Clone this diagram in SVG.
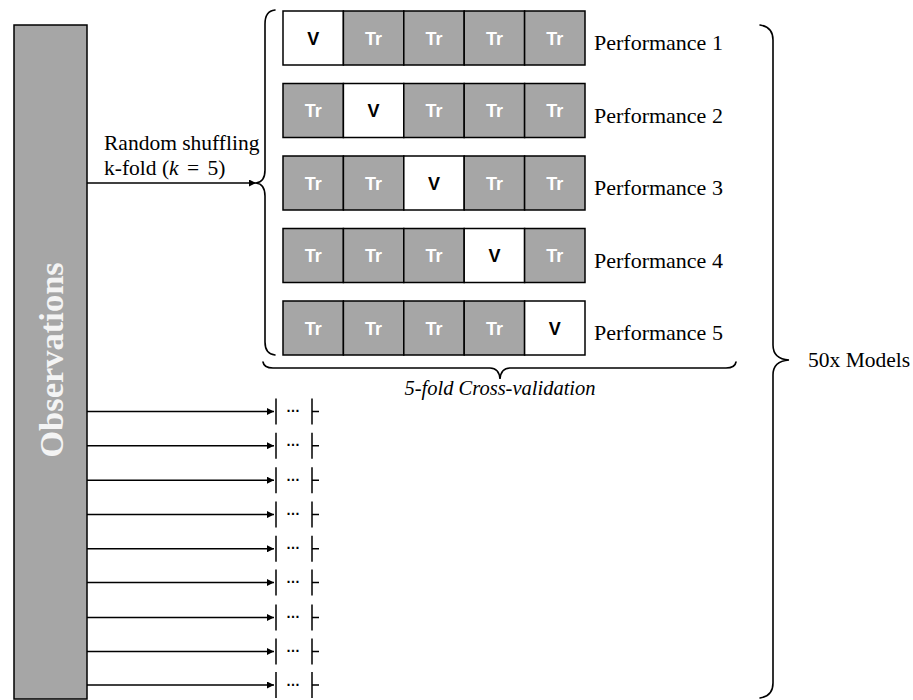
<svg xmlns="http://www.w3.org/2000/svg" width="913" height="700" viewBox="0 0 913 700">
  <style>
    .serif { font-family: "Liberation Serif", "DejaVu Serif", serif; fill: #000; }
    .label { font-size: 21.5px; }
    .perf { font-size: 22px; }
    .cell { stroke: #000; stroke-width: 1.5; }
    .tr { fill: #a6a6a6; }
    .v { fill: #fff; }
    .celltxt { font-family: "Liberation Sans", Arial, sans-serif; font-weight: bold; font-size: 18px; text-anchor: middle; }
    .trtxt { fill: #fff; }
    .vtxt { fill: #000; }
    .line { fill: none; stroke: #000; stroke-width: 1.5; }
    .brace { fill: none; stroke: #000; stroke-width: 1.6; stroke-linecap: round; }
    .dots { font-family: "Liberation Sans", Arial, sans-serif; font-weight: bold; font-size: 14px; text-anchor: middle; fill: #000; }
  </style>
  <defs>
    <marker id="arrow" viewBox="0 0 10 10" refX="10" refY="5" markerWidth="7" markerHeight="7" markerUnits="userSpaceOnUse" orient="auto">
      <path d="M0,0 L10,5 L0,10 z" fill="#000"/>
    </marker>
  </defs>

  <rect width="913" height="700" fill="#fff"/>

  <!-- observations column -->
  <g id="observations">
    <rect x="14" y="25" width="73" height="674" fill="#a6a6a6" stroke="#000" stroke-width="1.5"/>
    <text x="63" y="360" transform="rotate(-90 63 360)" text-anchor="middle" font-family="Liberation Serif, DejaVu Serif, serif" font-weight="bold" font-size="34.5" fill="#f4f4f4">Observations</text>
  </g>

  <!-- connectors -->
  <g id="connectors">
    <path class="line" d="M87,183 H256" marker-end="url(#arrow)"/>
    <path class="line" d="M87,411.5 H274" marker-end="url(#arrow)"/>
    <path class="line" d="M87,445.7 H274" marker-end="url(#arrow)"/>
    <path class="line" d="M87,480.2 H274" marker-end="url(#arrow)"/>
    <path class="line" d="M87,514.6 H274" marker-end="url(#arrow)"/>
    <path class="line" d="M87,548.8 H274" marker-end="url(#arrow)"/>
    <path class="line" d="M87,582.5 H274" marker-end="url(#arrow)"/>
    <path class="line" d="M87,617.5 H274" marker-end="url(#arrow)"/>
    <path class="line" d="M87,651.5 H274" marker-end="url(#arrow)"/>
    <path class="line" d="M87,685 H274" marker-end="url(#arrow)"/>
  </g>

  <g id="shuffle-label">
    <text class="serif label" x="104" y="150">Random shuffling</text>
    <text class="serif label" x="104" y="175">k-fold (<tspan font-style="italic">k</tspan><tspan word-spacing="3"> = 5)</tspan></text>
  </g>

  <!-- brace grouping the five folds -->
  <g id="fold-brace">
    <path class="brace" d="M275,10 Q265,11 265,24 L265,170 Q265,182 256,183 Q265,184 265,196 L265,342 Q265,354 275,355"/>
  </g>

  <g id="fold-1">
    <rect class="cell v" x="283" y="11" width="60.4" height="54"/>
    <rect class="cell tr" x="343.4" y="11" width="60.4" height="54"/>
    <rect class="cell tr" x="403.8" y="11" width="60.4" height="54"/>
    <rect class="cell tr" x="464.2" y="11" width="60.4" height="54"/>
    <rect class="cell tr" x="524.6" y="11" width="60.4" height="54"/>
    <text class="celltxt vtxt" x="313.2" y="44.5">V</text>
    <text class="celltxt trtxt" x="373.6" y="44.5">Tr</text>
    <text class="celltxt trtxt" x="434" y="44.5">Tr</text>
    <text class="celltxt trtxt" x="494.4" y="44.5">Tr</text>
    <text class="celltxt trtxt" x="554.8" y="44.5">Tr</text>
    <text class="serif perf" x="594" y="50">Performance 1</text>
  </g>

  <g id="fold-2">
    <rect class="cell tr" x="283" y="83.5" width="60.4" height="54"/>
    <rect class="cell v" x="343.4" y="83.5" width="60.4" height="54"/>
    <rect class="cell tr" x="403.8" y="83.5" width="60.4" height="54"/>
    <rect class="cell tr" x="464.2" y="83.5" width="60.4" height="54"/>
    <rect class="cell tr" x="524.6" y="83.5" width="60.4" height="54"/>
    <text class="celltxt trtxt" x="313.2" y="117">Tr</text>
    <text class="celltxt vtxt" x="373.6" y="117">V</text>
    <text class="celltxt trtxt" x="434" y="117">Tr</text>
    <text class="celltxt trtxt" x="494.4" y="117">Tr</text>
    <text class="celltxt trtxt" x="554.8" y="117">Tr</text>
    <text class="serif perf" x="594" y="122.5">Performance 2</text>
  </g>

  <g id="fold-3">
    <rect class="cell tr" x="283" y="156" width="60.4" height="54"/>
    <rect class="cell tr" x="343.4" y="156" width="60.4" height="54"/>
    <rect class="cell v" x="403.8" y="156" width="60.4" height="54"/>
    <rect class="cell tr" x="464.2" y="156" width="60.4" height="54"/>
    <rect class="cell tr" x="524.6" y="156" width="60.4" height="54"/>
    <text class="celltxt trtxt" x="313.2" y="189.5">Tr</text>
    <text class="celltxt trtxt" x="373.6" y="189.5">Tr</text>
    <text class="celltxt vtxt" x="434" y="189.5">V</text>
    <text class="celltxt trtxt" x="494.4" y="189.5">Tr</text>
    <text class="celltxt trtxt" x="554.8" y="189.5">Tr</text>
    <text class="serif perf" x="594" y="195">Performance 3</text>
  </g>

  <g id="fold-4">
    <rect class="cell tr" x="283" y="228.5" width="60.4" height="54"/>
    <rect class="cell tr" x="343.4" y="228.5" width="60.4" height="54"/>
    <rect class="cell tr" x="403.8" y="228.5" width="60.4" height="54"/>
    <rect class="cell v" x="464.2" y="228.5" width="60.4" height="54"/>
    <rect class="cell tr" x="524.6" y="228.5" width="60.4" height="54"/>
    <text class="celltxt trtxt" x="313.2" y="262">Tr</text>
    <text class="celltxt trtxt" x="373.6" y="262">Tr</text>
    <text class="celltxt trtxt" x="434" y="262">Tr</text>
    <text class="celltxt vtxt" x="494.4" y="262">V</text>
    <text class="celltxt trtxt" x="554.8" y="262">Tr</text>
    <text class="serif perf" x="594" y="267.5">Performance 4</text>
  </g>

  <g id="fold-5">
    <rect class="cell tr" x="283" y="301" width="60.4" height="54"/>
    <rect class="cell tr" x="343.4" y="301" width="60.4" height="54"/>
    <rect class="cell tr" x="403.8" y="301" width="60.4" height="54"/>
    <rect class="cell tr" x="464.2" y="301" width="60.4" height="54"/>
    <rect class="cell v" x="524.6" y="301" width="60.4" height="54"/>
    <text class="celltxt trtxt" x="313.2" y="334.5">Tr</text>
    <text class="celltxt trtxt" x="373.6" y="334.5">Tr</text>
    <text class="celltxt trtxt" x="434" y="334.5">Tr</text>
    <text class="celltxt trtxt" x="494.4" y="334.5">Tr</text>
    <text class="celltxt vtxt" x="554.8" y="334.5">V</text>
    <text class="serif perf" x="594" y="340">Performance 5</text>
  </g>

  <!-- horizontal brace under the folds -->
  <g id="cv-brace">
    <path class="brace" d="M263,362 Q264,368 273,368 L490,368 Q499,368 500,379 Q501,368 510,368 L726,368 Q735,368 736,362"/>
    <text class="serif" x="500" y="395" font-size="20.5" font-style="italic" text-anchor="middle">5-fold Cross-validation</text>
  </g>

  <!-- collapsed repetitions -->
  <g id="repeats">
    <g id="repeat-1"><path class="line" d="M276,398.5 V424.5 M312,398.5 V424.5 M312,411.5 H319"/><text class="dots" x="293" y="412">…</text></g>
    <g id="repeat-2"><path class="line" d="M276,432.7 V458.7 M312,432.7 V458.7 M312,445.7 H319"/><text class="dots" x="293" y="446.2">…</text></g>
    <g id="repeat-3"><path class="line" d="M276,467.2 V493.2 M312,467.2 V493.2 M312,480.2 H319"/><text class="dots" x="293" y="480.7">…</text></g>
    <g id="repeat-4"><path class="line" d="M276,501.6 V527.6 M312,501.6 V527.6 M312,514.6 H319"/><text class="dots" x="293" y="515.1">…</text></g>
    <g id="repeat-5"><path class="line" d="M276,535.8 V561.8 M312,535.8 V561.8 M312,548.8 H319"/><text class="dots" x="293" y="549.3">…</text></g>
    <g id="repeat-6"><path class="line" d="M276,569.5 V595.5 M312,569.5 V595.5 M312,582.5 H319"/><text class="dots" x="293" y="583">…</text></g>
    <g id="repeat-7"><path class="line" d="M276,604.5 V630.5 M312,604.5 V630.5 M312,617.5 H319"/><text class="dots" x="293" y="618">…</text></g>
    <g id="repeat-8"><path class="line" d="M276,638.5 V664.5 M312,638.5 V664.5 M312,651.5 H319"/><text class="dots" x="293" y="652">…</text></g>
    <g id="repeat-9"><path class="line" d="M276,672 V698 M312,672 V698 M312,685 H319"/><text class="dots" x="293" y="685.5">…</text></g>
  </g>

  <!-- brace over all models -->
  <g id="models-brace">
    <path class="brace" d="M760,25 Q773,27 773,40 L773,345 Q773,359 789,360 Q773,361 773,375 L773,683 Q773,696 760,698"/>
    <text class="serif label" x="808" y="367">50x Models</text>
  </g>
</svg>
